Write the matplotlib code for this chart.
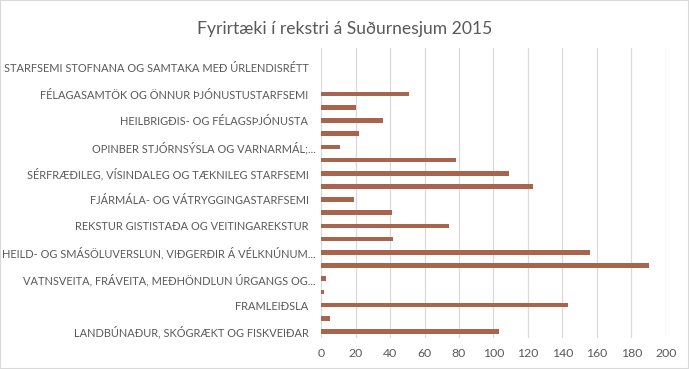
import matplotlib.pyplot as plt
from matplotlib.patches import Rectangle
from matplotlib.transforms import ScaledTranslation

# atvinnugreinar (ÍSAT bálkar), neðst -> efst
categories = [
    'LANDBÚNAÐUR, SKÓGRÆKT OG FISKVEIÐAR',
    'NÁMUGRÖFTUR OG VINNSLA HRÁEFNA ÚR JÖRÐU',
    'FRAMLEIÐSLA',
    'RAFMAGNS-, GAS- OG HITAVEITUR',
    'VATNSVEITA, FRÁVEITA, MEÐHÖNDLUN ÚRGANGS OG...',
    'BYGGINGARSTARFSEMI OG MANNVIRKJAGERÐ',
    'HEILD- OG SMÁSÖLUVERSLUN, VIÐGERÐIR Á VÉLKNÚNUM...',
    'FLUTNINGAR OG GEYMSLA',
    'REKSTUR GISTISTAÐA OG VEITINGAREKSTUR',
    'UPPLÝSINGAR OG FJARSKIPTI',
    'FJÁRMÁLA- OG VÁTRYGGINGASTARFSEMI',
    'FASTEIGNAVIÐSKIPTI',
    'SÉRFRÆÐILEG, VÍSINDALEG OG TÆKNILEG STARFSEMI',
    'LEIGUSTARFSEMI OG ÝMIS SÉRHÆFÐ ÞJÓNUSTA',
    'OPINBER STJÓRNSÝSLA OG VARNARMÁL;...',
    'FRÆÐSLUSTARFSEMI',
    'HEILBRIGÐIS- OG FÉLAGSÞJÓNUSTA',
    'MENNINGAR-, ÍÞRÓTTA- OG TÓMSTUNDASTARFSEMI',
    'FÉLAGASAMTÖK OG ÖNNUR ÞJÓNUSTUSTARFSEMI',
    'STARFSEMI HEIMILA',
    'STARFSEMI STOFNANA OG SAMTAKA MEÐ ÚRLENDISRÉTT',
    'ÓÞEKKT',
]
fjoldi = [103, 5, 143, 2, 3, 190, 156, 42, 74, 41, 19,
          123, 109, 78, 11, 22, 36, 20, 51, 0, 0, 0]
xticks = [0, 20, 40, 60, 80, 100, 120, 140, 160, 180, 200]

plt.rcParams['font.family'] = ['Lato', 'DejaVu Sans']
grar = '#595959'

fig = plt.figure(figsize=(6.89, 3.69), dpi=100)
ax = fig.add_axes([321/689, 1-338/369, (666-321)/689, (338-48)/369])

y = list(range(len(categories)))
ax.barh(y, fjoldi, height=0.35, color='#A9644E', zorder=3)

ax.set_xlim(0, 200)
ax.set_ylim(-0.5, len(categories)-0.5)
ax.set_xticks(xticks)
ax.set_xticklabels([str(t) for t in xticks], color=grar, fontsize=8.8)
# Excel synir adeins annan hvern flokk
ax.set_yticks(y[::2])
ax.set_yticklabels(categories[::2], color=grar, fontsize=7.9)
ax.tick_params(axis='both', length=0)
ax.tick_params(axis='y', pad=9)
ax.tick_params(axis='x', pad=7)
ax.grid(axis='x', color='#D9D9D9', linewidth=0.9, zorder=0)
for s in ax.spines.values():
    s.set_visible(False)

# styttu merkin (...) na lengra til haegri eins og i Excel
for lbl in ax.get_yticklabels():
    if lbl.get_text().endswith('...'):
        lbl.set_transform(lbl.get_transform() + ScaledTranslation(0.07, 0, fig.dpi_scale_trans))

fig.text(0.5, 1-29/369, 'Fyrirtæki í rekstri á Suðurnesjum 2015', ha='center', va='center',
         fontsize=12.6, color=grar)

# rammi utan um myndina
fig.patches.append(Rectangle((0, 0), 1, 1, transform=fig.transFigure, fill=False,
                             edgecolor='#D9D9D9', linewidth=1.5))

fig.savefig('out.png', dpi=100)
